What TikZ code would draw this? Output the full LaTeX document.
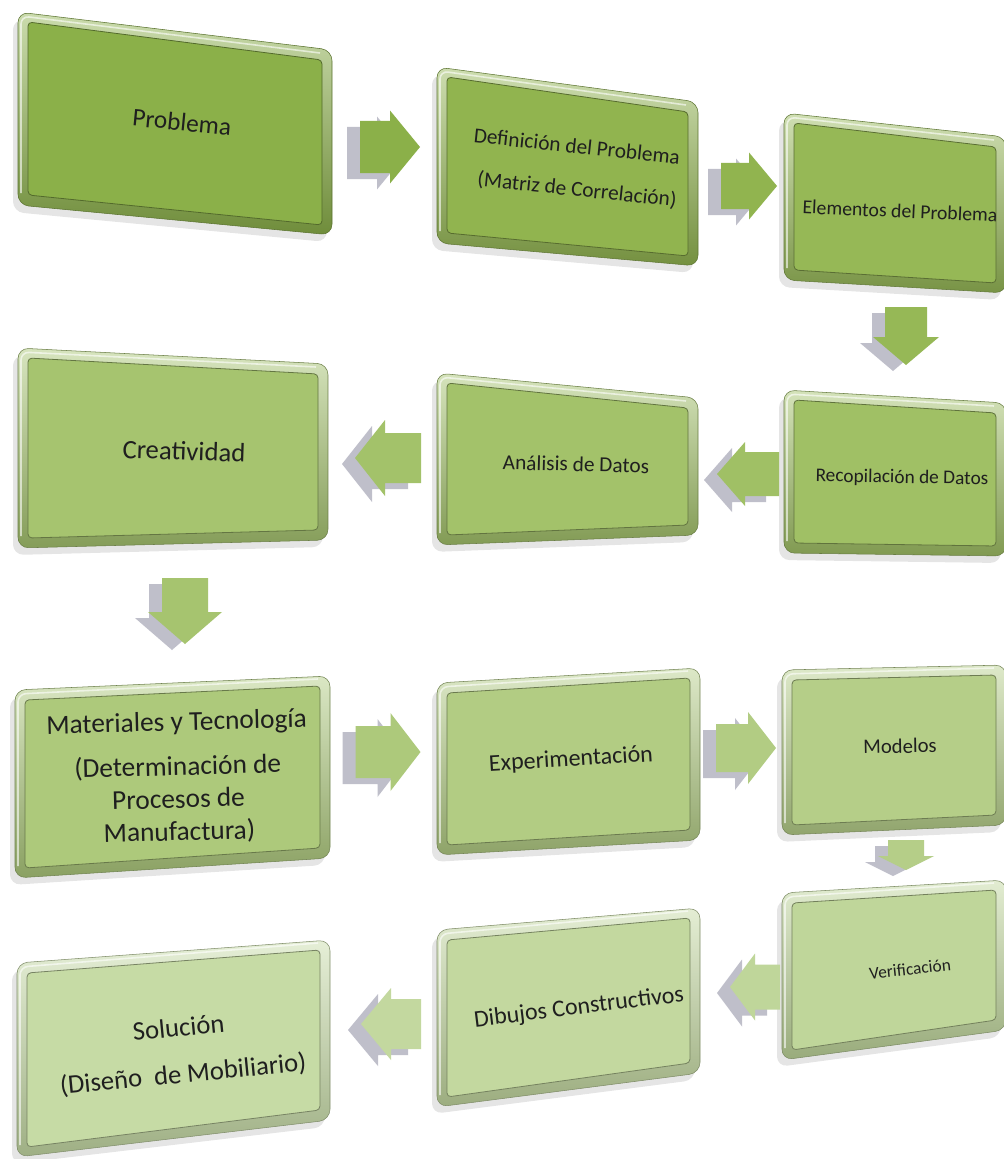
\documentclass[tikz,border=0pt]{standalone}
\usepackage{fontspec}
\setmainfont{Carlito}
\usetikzlibrary{calc}
\definecolor{c1}{HTML}{8BB049}
\definecolor{c2}{HTML}{91B44F}
\definecolor{c3}{HTML}{96B856}
\definecolor{c4}{HTML}{A0C065}
\definecolor{c5}{HTML}{A3C26A}
\definecolor{c6}{HTML}{A6C46F}
\definecolor{c7}{HTML}{ADC97B}
\definecolor{c8}{HTML}{B2CC83}
\definecolor{c9}{HTML}{B5CE88}
\definecolor{c10}{HTML}{BFD69A}
\definecolor{c11}{HTML}{C3D89F}
\definecolor{c12}{HTML}{C6DBA5}
\definecolor{shadowgrey}{HTML}{A4A4B4}
% box: #1 name, #2 xL, #3 yTL, #4 yBL, #5 xR, #6 yTR, #7 yBR, #8 colour
\newcommand\gbox[8]{%
  \fill[black, opacity=0.10, rounded corners=8pt] (#2-5,#3+7) -- (#5-5,#6+7) -- (#5-5,#7+7) -- (#2-5,#4+7) -- cycle;
  \shade[rounded corners=8pt, top color=#8!45!white, bottom color=#8!80!black, draw=#8!65!black, line width=0.4pt]
    (#2,#3) -- (#5,#6) -- (#5,#7) -- (#2,#4) -- cycle;
  \draw[white, opacity=0.6, line width=1.2pt, rounded corners=6pt] (#2+3,#4-12) -- (#2+3,#3+4) -- (#5-12,#6+3);
  \fill[rounded corners=3pt, #8, draw=#8!60!black, line width=0.6pt]
    (#2+10,#3+10) -- (#5-10,#6+10) -- (#5-10,#7-10) -- (#2+10,#4-10) -- cycle;
  \coordinate (#1) at ({(#2+#5)/2},{(#3+#4+#6+#7)/4});
}
% block arrow: #1 name, #2 x, #3 y, #4 angle, #5 length, #6 head width, #7 shaft width, #8 head length, #9 colour
\newcommand\barrow[9]{%
  \coordinate (#1) at (#2,#3);
  \begin{scope}[shift={($(#1)+(-13,6)$)}, rotate=#4]
    \fill[shadowgrey, opacity=0.7] (-#5/2,-#7/2) -- ({#5/2-#8},-#7/2) -- ({#5/2-#8},-#6/2) -- (#5/2,0) -- ({#5/2-#8},#6/2) -- ({#5/2-#8},#7/2) -- (-#5/2,#7/2) -- cycle;
  \end{scope}
  \begin{scope}[shift={(#1)}, rotate=#4]
    \fill[#9] (-#5/2,-#7/2) -- ({#5/2-#8},-#7/2) -- ({#5/2-#8},-#6/2) -- (#5/2,0) -- ({#5/2-#8},#6/2) -- ({#5/2-#8},#7/2) -- (-#5/2,#7/2) -- cycle;
  \end{scope}
}
\begin{document}
\begin{tikzpicture}[x=0.75pt, y=-0.75pt,
  lbl/.style={text=black!88, align=center, inner sep=0pt}]
\fill[white] (0,0) rectangle (1003,1159);
\useasboundingbox (0,0) rectangle (1003,1159);

% boxes
\gbox{p1}{18}{12}{205}{332}{50}{235}{c1}
\gbox{p2}{437}{67}{243}{698}{102}{266}{c2}
\gbox{p3}{784}{113}{280}{1006}{137}{293}{c3}
\gbox{p4}{784}{390}{553}{1006}{403}{556}{c4}
\gbox{p5}{437}{373}{545}{698}{398}{535}{c5}
\gbox{p6}{18}{348}{548}{328}{364}{540}{c6}
\gbox{p7}{15}{690}{878}{330}{676}{858}{c7}
\gbox{p8}{437}{683}{855}{700}{668}{840}{c8}
\gbox{p9}{782}{670}{835}{1006}{665}{825}{c9}
\gbox{p10}{782}{893}{1060}{1006}{880}{1030}{c10}
\gbox{p11}{437}{930}{1107}{700}{908}{1073}{c11}
\gbox{p12}{17}{963}{1157}{330}{940}{1120}{c12}

% labels
\node[lbl, font=\fontsize{19}{23}\selectfont, rotate=-5.5] (t1) at (182,122) {Problema};
\node[lbl, font=\fontsize{16}{19}\selectfont, rotate=-6] (t2a) at (577,146) {Definición del Problema};
\node[lbl, font=\fontsize{16}{19}\selectfont, rotate=-6] (t2b) at (577,190) {(Matriz de Correlación)};
\node[lbl, font=\fontsize{14.8}{17}\selectfont, rotate=-2.5] (t3) at (900,211) {Elementos del Problema};
\node[lbl, font=\fontsize{14.5}{17}\selectfont, rotate=-1] (t4) at (902,478) {Recopilación de Datos};
\node[lbl, font=\fontsize{16}{19}\selectfont, rotate=-1.5] (t5) at (576,464) {Análisis de Datos};
\node[lbl, font=\fontsize{20}{24}\selectfont, rotate=-2] (t6) at (184,451) {Creatividad};
\node[lbl, font=\fontsize{20.5}{24.5}\selectfont, rotate=1.5] (t7) at (178,778) {Materiales y Tecnología\\[9pt](Determinación de\\Procesos de\\Manufactura)};
\node[lbl, font=\fontsize{18}{21}\selectfont, rotate=3.5] (t8) at (571,760) {Experimentación};
\node[lbl, font=\fontsize{15.5}{18}\selectfont, rotate=1] (t9) at (900,746) {Modelos};
\node[lbl, font=\fontsize{13}{16}\selectfont, rotate=6] (t10) at (910,969) {Verificación};
\node[lbl, font=\fontsize{18}{21}\selectfont, rotate=7] (t11) at (579,1008) {Dibujos Constructivos};
\node[lbl, font=\fontsize{20}{24}\selectfont, rotate=5.5] (t12) at (181,1052) {Solución\\[11pt](Diseño~~de Mobiliario)};

% block arrows (connectors)
\barrow{a1}{390}{147}{0}{60}{73}{52}{30}{c1}
\barrow{a2}{749}{186}{0}{56}{67}{46}{28}{c2}
\barrow{a3}{906}{336}{-90}{58}{66}{42}{28}{c3}
\barrow{a4}{748}{474}{180}{62}{64}{44}{28}{c4}
\barrow{a5}{388}{458}{180}{66}{76}{50}{30}{c5}
\barrow{a6}{185}{611}{-90}{66}{74}{46}{32}{c6}
\barrow{a7}{388}{752}{0}{65}{78}{52}{30}{c7}
\barrow{a8}{746}{748}{0}{60}{72}{48}{28}{c8}
\barrow{a9}{906}{855}{-90}{30}{56}{36}{14}{c9}
\barrow{a10}{755}{987}{180}{50}{67}{45}{25}{c10}
\barrow{a11}{391}{1024}{180}{60}{72}{50}{30}{c11}
\end{tikzpicture}
\end{document}
